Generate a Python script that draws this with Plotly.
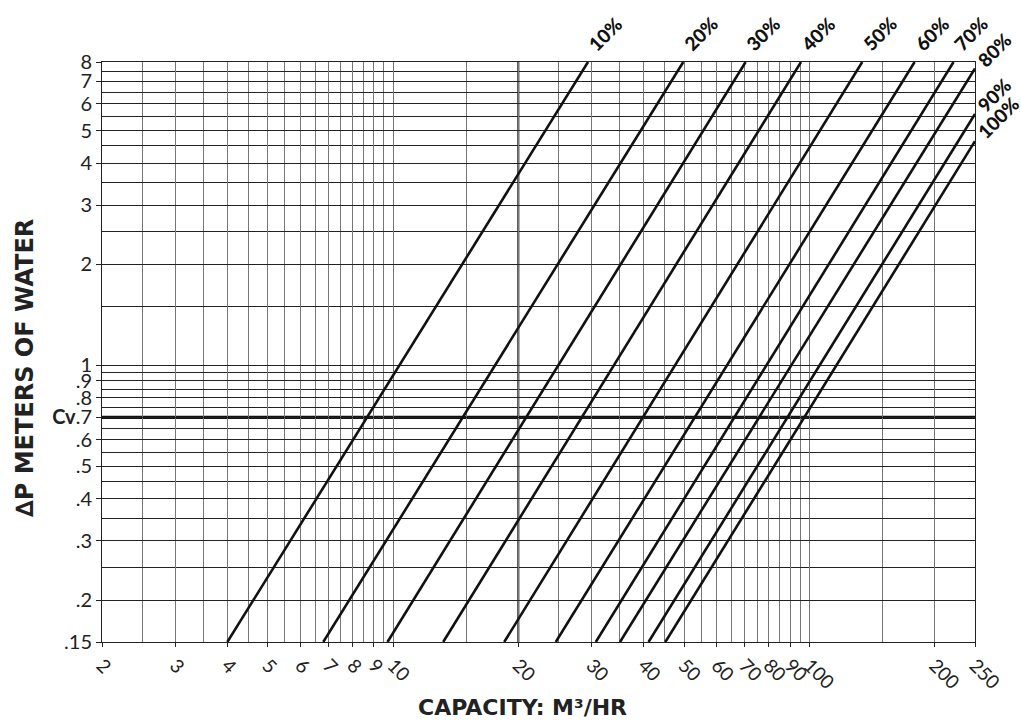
import plotly.graph_objects as go
import numpy as np

# ---- data ----
openings = ["10%", "20%", "30%", "40%", "50%", "60%", "70%", "80%", "90%", "100%"]
# capacity (m3/hr) where each line meets dP = 0.15 m
q_start = [4.0, 6.8, 9.7, 13.2, 18.5, 24.6, 30.7, 35.1, 41.1, 45.1]
dp_start = [0.15] * 10
# end point of each line (top edge dP=8 or right edge Q=250)
q_end = [29.4, 49.8, 70.3, 95.5, 134.0, 179.0, 222.0, 250.0, 250.0, 250.0]
dp_end = [8.0, 8.0, 8.0, 8.0, 8.0, 8.0, 8.0, 7.65, 5.6, 4.65]

x_tickvals = [2, 3, 4, 5, 6, 7, 8, 9, 10, 20, 30, 40, 50, 60, 70, 80, 90, 100, 200, 250]
x_ticktext = ["2", "3", "4", "5", "6", "7", "8", "9", "10", "20", "30", "40", "50",
              "60", "70", "80", "90", "100", "200", "250"]
x_minor = [2.5, 3.5, 4.5, 5.5, 6.5, 7.5, 8.5, 9.5, 15, 25, 35, 45, 55, 65, 75, 85, 95, 150]

y_tickvals = [0.15, 0.2, 0.3, 0.4, 0.5, 0.6, 0.7, 0.8, 0.9, 1, 2, 3, 4, 5, 6, 7, 8]
y_ticktext = [".15", ".2", ".3", ".4", ".5", ".6", "<b>Cv</b>.7", ".8", ".9", "1",
              "2", "3", "4", "5", "6", "7", "8"]
y_minor = [0.25, 0.35, 0.45, 0.55, 0.65, 0.75, 0.85, 0.95, 1.5, 2.5, 3.5, 4.5, 5.5,
           6.5, 7.5]

cv_level = 0.7
ref_capacity = 20

FONT = "Lato"
TITLE_FONT = "DejaVu Sans"

fig = go.Figure()
for name, x0, y0, x1, y1 in zip(openings, q_start, dp_start, q_end, dp_end):
    fig.add_trace(go.Scatter(x=[x0, x1], y=[y0, y1], mode="lines",
                             line=dict(color="#111", width=2.6),
                             showlegend=False, name=name, hoverinfo="skip"))

# emphasised reference lines
fig.add_shape(type="line", xref="paper", yref="y", x0=0, x1=1, y0=cv_level, y1=cv_level,
              line=dict(color="#111", width=3.2), layer="between")
fig.add_shape(type="line", xref="x", yref="paper", x0=ref_capacity, x1=ref_capacity,
              y0=0, y1=1, line=dict(color="#111", width=2), layer="between")

# opening labels
ann = []
for name, x1, y1 in zip(openings, q_end, dp_end):
    top = y1 >= 8
    ann.append(dict(x=np.log10(x1), y=np.log10(y1), xref="x", yref="y", text=name,
                    showarrow=False, textangle=-45, xanchor="left", yanchor="bottom",
                    xshift=-7 if top else -5, yshift=4 if top else -5,
                    font=dict(family=FONT, size=19, color="#111", weight=900)))

W, H = 1021, 721
L, T = 102, 62
pw, ph = 873, 580
R, B = W - L - pw, H - T - ph


def px2paper(px, py):
    return (px - L) / pw, 1 - (py - T) / ph


xt = px2paper(522, 708)
ann.append(dict(x=xt[0], y=xt[1], xref="paper", yref="paper", text="CAPACITY: M³/HR",
                showarrow=False, xanchor="center", yanchor="middle",
                font=dict(family=TITLE_FONT, size=22, color="#222", weight="bold")))
yt = px2paper(25, 368)
ann.append(dict(x=yt[0], y=yt[1], xref="paper", yref="paper", text="∆P METERS OF WATER",
                showarrow=False, textangle=-90, xanchor="center", yanchor="middle",
                font=dict(family=TITLE_FONT, size=24, color="#222", weight="bold")))

fig.update_layout(
    width=W, height=H,
    margin=dict(l=L, r=R, t=T, b=B, autoexpand=False),
    paper_bgcolor="white", plot_bgcolor="white",
    annotations=ann,
    xaxis=dict(type="log", range=[np.log10(2), np.log10(250)],
               tickmode="array", tickvals=x_tickvals, ticktext=x_ticktext,
               tickangle=45, ticks="outside", ticklen=4, tickcolor="#222",
               showgrid=True, gridcolor="#777", gridwidth=1,
               minor=dict(tickmode="array", tickvals=x_minor, showgrid=True,
                          gridcolor="#777", gridwidth=1, ticks=""),
               showline=True, mirror=True, linecolor="#222", linewidth=1,
               zeroline=False, automargin=False,
               tickfont=dict(family=FONT, size=19, color="#222")),
    yaxis=dict(type="log", range=[np.log10(0.15), np.log10(8)],
               tickmode="array", tickvals=y_tickvals, ticktext=y_ticktext,
               ticks="outside", ticklen=5, tickcolor="#222",
               showgrid=True, gridcolor="#222", gridwidth=1,
               minor=dict(tickmode="array", tickvals=y_minor, showgrid=True,
                          gridcolor="#222", gridwidth=1, ticks=""),
               showline=True, mirror=True, linecolor="#222", linewidth=1,
               zeroline=False, automargin=False,
               tickfont=dict(family=FONT, size=20, color="#222")),
)

fig.write_html("out.html",
               config={"displayModeBar": False},
               post_script="document.body.style.margin='0';"
                           "document.body.style.overflow='hidden';")
